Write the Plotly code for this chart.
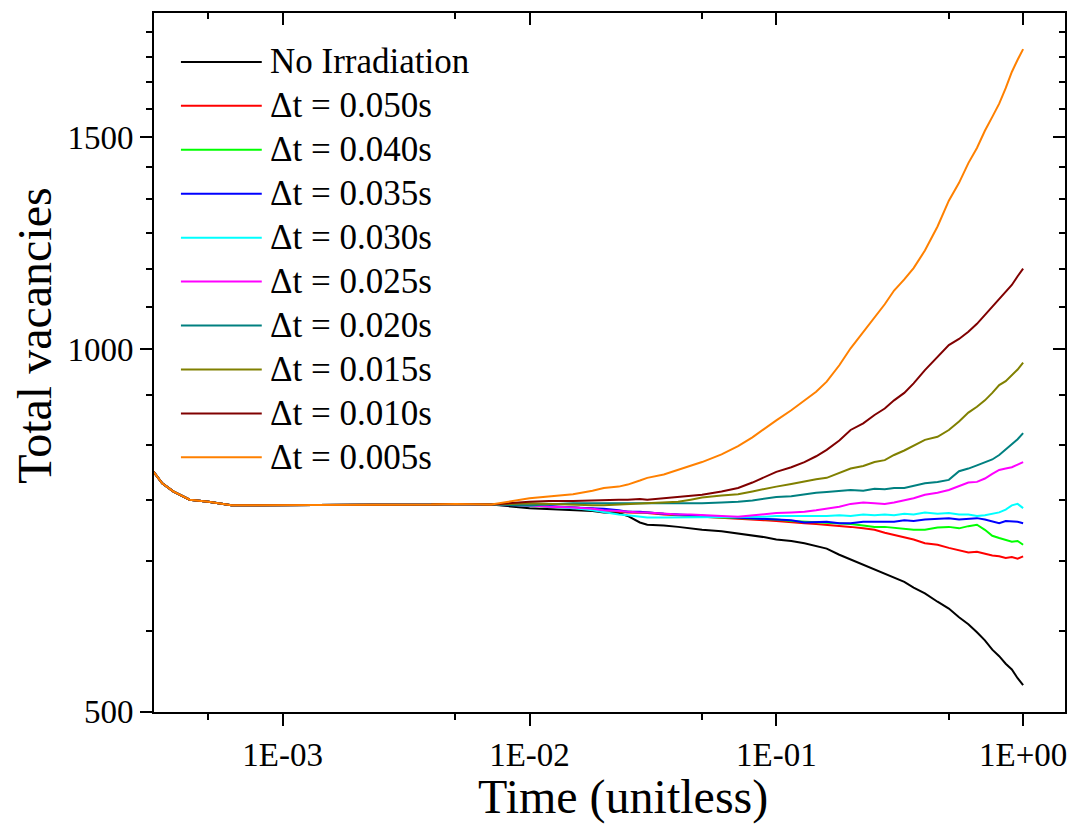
import math
import plotly.graph_objects as go

# Simulation output: total vacancies vs. normalized time for each irradiation interval
early_time = [3.0e-4, 3.25e-4, 3.6e-4, 4.2e-4, 5e-4, 6.2e-4, 8e-4, 1e-3,
              1.5e-3, 2e-3, 3e-3, 4e-3, 5e-3, 7e-3]
early_vac = [791, 774, 762, 750, 747, 742, 742, 742, 742, 743, 743, 743, 744, 743]

late_time = [0.01, 0.012, 0.015, 0.018, 0.02, 0.023, 0.025, 0.028, 0.03, 0.035,
             0.04, 0.045, 0.05, 0.06, 0.07, 0.08, 0.09, 0.1, 0.115, 0.13, 0.145,
             0.16, 0.18, 0.2, 0.225, 0.25, 0.275, 0.3, 0.33, 0.36, 0.4, 0.45,
             0.5, 0.55, 0.6, 0.65, 0.7, 0.75, 0.8, 0.85, 0.9, 0.95, 1.0]

no_irr = [738, 737, 735, 734, 732, 731, 727, 718, 715, 714, 712, 710, 708, 706,
          703, 700, 698, 695, 693, 690, 686, 683, 675, 669, 662, 657, 651, 646,
          641, 634, 627, 617, 609, 599, 591, 582, 573, 563, 556, 548, 542, 533,
          526]
dt_050 = [742, 740, 739, 737, 735, 733, 732, 732, 731, 729, 728, 727, 726, 725,
          723, 722, 721, 720, 718, 717, 716, 715, 713, 712, 710, 708, 704, 701,
          698, 695, 690, 688, 684, 681, 678, 679, 676, 674, 673, 671, 672, 670,
          673]
dt_040 = [742, 740, 739, 737, 735, 734, 733, 732, 732, 730, 729, 727, 726, 725,
          724, 723, 722, 722, 720, 719, 718, 717, 717, 716, 714, 712, 712, 711,
          709, 708, 708, 711, 712, 710, 713, 715, 708, 700, 697, 694, 692, 693,
          688]
dt_035 = [742, 741, 739, 738, 737, 735, 733, 733, 732, 730, 729, 728, 728, 726,
          725, 724, 723, 722, 721, 718, 719, 719, 717, 717, 719, 719, 718, 719,
          721, 720, 722, 723, 724, 722, 723, 724, 722, 719, 717, 720, 720, 719,
          717]
dt_030 = [742, 740, 738, 735, 732, 729, 728, 726, 725, 725, 725, 726, 725, 725,
          725, 726, 726, 727, 727, 726, 727, 727, 728, 727, 729, 728, 729, 728,
          730, 729, 732, 730, 731, 729, 729, 727, 728, 730, 732, 736, 742, 744,
          738]
dt_025 = [742, 740, 739, 737, 735, 734, 733, 732, 732, 730, 729, 729, 728, 727,
          726, 728, 730, 731, 732, 733, 735, 737, 740, 744, 746, 745, 744, 746,
          749, 752, 757, 760, 764, 770, 775, 776, 781, 788, 794, 796, 798, 802,
          806]
dt_020 = [742, 743, 745, 745, 745, 745, 744, 745, 744, 744, 744, 745, 745, 746,
          747, 749, 752, 754, 755, 758, 760, 761, 763, 764, 763, 766, 765, 767,
          767, 770, 774, 776, 779, 792, 796, 801, 806, 810, 817, 826, 833, 842,
          852]
dt_015 = [745, 744, 742, 742, 742, 743, 744, 745, 745, 746, 747, 750, 753, 756,
          758, 762, 766, 769, 773, 777, 780, 782, 790, 796, 800, 806, 809, 817,
          824, 832, 841, 846, 857, 871, 886, 896, 907, 920, 934, 941, 952, 962,
          975]
dt_010 = [747, 748, 748, 749, 750, 750, 750, 751, 750, 752, 754, 755, 757, 762,
          767, 775, 783, 791, 798, 806, 815, 825, 840, 857, 868, 882, 893, 907,
          920, 937, 961, 985, 1008, 1020, 1034, 1050, 1068, 1085, 1103, 1118,
          1131, 1150, 1167]
dt_005 = [752, 755, 758, 763, 767, 769, 772, 778, 782, 787, 794, 800, 806, 818,
          831, 845, 860, 873, 890, 907, 922, 940, 970, 1002, 1033, 1062, 1090,
          1119, 1143, 1168, 1208, 1265, 1329, 1375, 1428, 1470, 1519, 1560, 1600,
          1648, 1700, 1740, 1776]

series_names = ["No Irradiation", "\u0394t = 0.050s", "\u0394t = 0.040s",
                "\u0394t = 0.035s", "\u0394t = 0.030s", "\u0394t = 0.025s",
                "\u0394t = 0.020s", "\u0394t = 0.015s", "\u0394t = 0.010s",
                "\u0394t = 0.005s"]
series_values = [no_irr, dt_050, dt_040, dt_035, dt_030, dt_025, dt_020, dt_015,
                 dt_010, dt_005]
series_colors = ["#000000", "#FF0000", "#00FF00", "#0000FF", "#00FFFF",
                 "#FF00FF", "#008080", "#808000", "#800000", "#FF8000"]

x_tickvals = [1e-3, 1e-2, 1e-1, 1.0]
x_ticktext = ["1E-03", "1E-02", "1E-01", "1E+00"]
x_minor = [5e-4, 5e-3, 5e-2, 5e-1]
y_tickvals = [500, 1000, 1500]
y_ticktext = ["500", "1000", "1500"]
y_minor = [500 + 500 * k / 6 for k in range(1, 17) if k % 6 != 0]

FONT = "Liberation Serif"
X_RANGE = [math.log10(3.01e-4), math.log10(1.478)]
Y_RANGE = [math.log10(500) - 0.0003, math.log10(1903)]

fig = go.Figure()

for name, vals, col in zip(series_names, series_values, series_colors):
    fig.add_trace(go.Scatter(
        x=early_time + late_time, y=early_vac + vals, mode="lines", name=name,
        line=dict(color=col, width=2), showlegend=False))

# Helper trace binding the mirrored top/right axes
fig.add_trace(go.Scatter(x=[None], y=[None], xaxis="x2", yaxis="y2",
                         showlegend=False, hoverinfo="skip"))

axis_font = dict(family=FONT, size=33, color="black")

fig.update_layout(
    width=1078, height=825,
    margin=dict(l=154, r=11, t=12, b=113),
    paper_bgcolor="white", plot_bgcolor="white",
    font=dict(family=FONT, color="black"),
    xaxis=dict(type="log", range=X_RANGE, tickmode="array",
               tickvals=x_tickvals, ticktext=x_ticktext,
               ticks="outside", ticklen=12, tickwidth=2, tickcolor="black",
               minor=dict(tickvals=x_minor, ticks="outside", ticklen=6,
                          tickwidth=2, tickcolor="black"),
               showline=True, linewidth=2, linecolor="black", mirror=True,
               showgrid=False, zeroline=False, tickfont=axis_font),
    yaxis=dict(type="log", range=Y_RANGE, tickmode="array",
               tickvals=y_tickvals, ticktext=y_ticktext,
               ticks="outside", ticklen=12, tickwidth=2, tickcolor="black",
               minor=dict(tickvals=y_minor, ticks="outside", ticklen=6,
                          tickwidth=2, tickcolor="black"),
               showline=True, linewidth=2, linecolor="black", mirror=True,
               showgrid=False, zeroline=False, tickfont=axis_font),
    xaxis2=dict(type="log", range=X_RANGE, overlaying="x", side="top",
                anchor="y2", tickmode="array", tickvals=x_tickvals,
                ticks="inside", ticklen=12, tickwidth=2, tickcolor="black",
                minor=dict(tickvals=x_minor, ticks="inside", ticklen=6,
                           tickwidth=2, tickcolor="black"),
                showticklabels=False, showline=False, showgrid=False,
                zeroline=False),
    yaxis2=dict(type="log", range=Y_RANGE, overlaying="y", side="right",
                anchor="x2", tickmode="array", tickvals=y_tickvals,
                ticks="inside", ticklen=12, tickwidth=2, tickcolor="black",
                minor=dict(tickvals=y_minor, ticks="inside", ticklen=6,
                           tickwidth=2, tickcolor="black"),
                showticklabels=False, showline=False, showgrid=False,
                zeroline=False),
)

# Plot-area geometry in pixels, used to place the legend and titles
PL, PR, PT, PB = 154, 1067, 12, 712
PW, PH = PR - PL, PB - PT


def px(xp):
    return (xp - PL) / PW


def py(yp):
    return 1 - (yp - PT) / PH


shapes, annotations = [], []
for i, (name, col) in enumerate(zip(series_names, series_colors)):
    row_y = 61 + 44 * i
    shapes.append(dict(type="line", xref="paper", yref="paper",
                       x0=px(181), x1=px(262), y0=py(row_y), y1=py(row_y),
                       line=dict(color=col, width=2)))
    annotations.append(dict(xref="paper", yref="paper", x=px(268), y=py(row_y),
                            text=name, showarrow=False, xanchor="left",
                            yanchor="middle",
                            font=dict(family=FONT, size=35, color="black")))

annotations.append(dict(xref="paper", yref="paper", x=px(624), y=py(797),
                        text="Time (unitless)", showarrow=False,
                        xanchor="center", yanchor="middle",
                        font=dict(family=FONT, size=48, color="black")))
annotations.append(dict(xref="paper", yref="paper", x=px(34), y=py(335),
                        text="Total vacancies", showarrow=False, textangle=-90,
                        xanchor="center", yanchor="middle",
                        font=dict(family=FONT, size=48, color="black")))

fig.update_layout(shapes=shapes, annotations=annotations)

fig.write_html("out.html")
